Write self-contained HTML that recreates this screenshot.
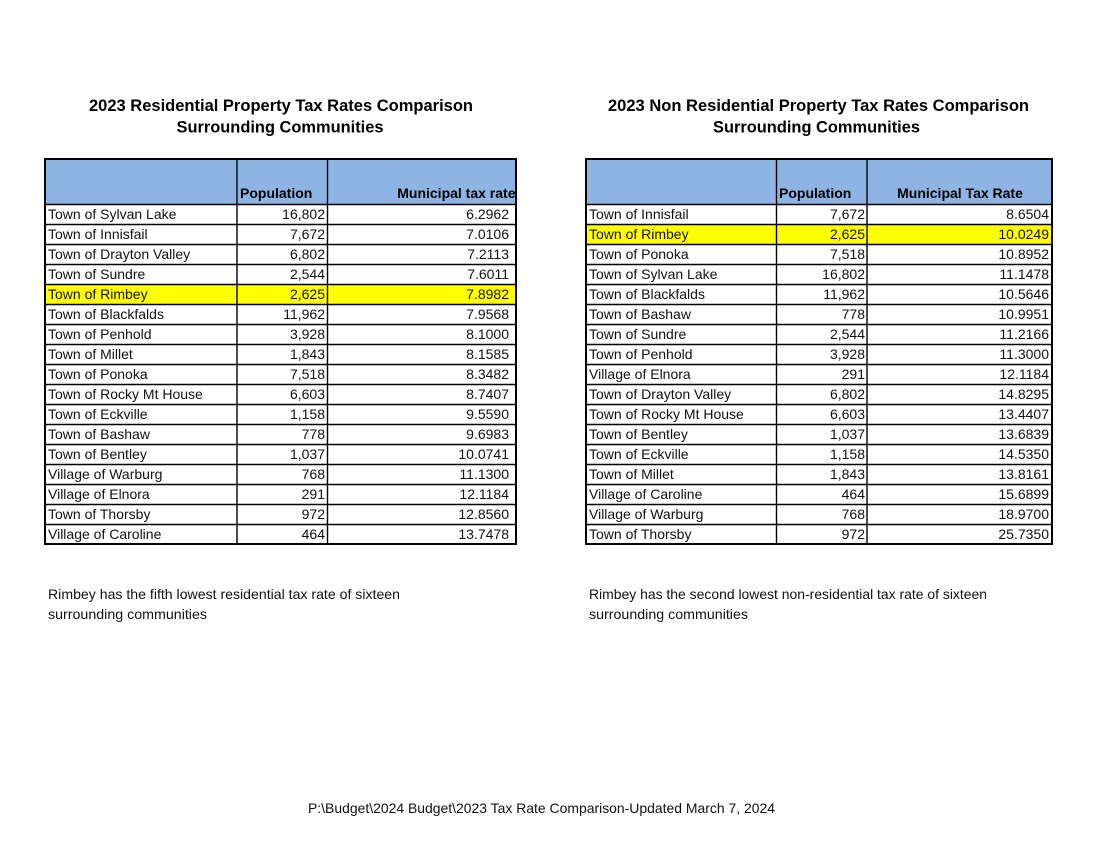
<!DOCTYPE html>
<html>
<head>
<meta charset="utf-8">
<style>
html,body{margin:0;padding:0;background:#fff;}
svg{display:block;}
.t{font-family:"Liberation Sans",Arial,sans-serif;font-weight:bold;font-size:16.5px;fill:#000;}
.h{font-family:"Liberation Sans",Arial,sans-serif;font-weight:bold;font-size:14px;fill:#000;}
.b{font-family:"Liberation Sans",Arial,sans-serif;font-size:14px;fill:#111;}
.n{font-family:"Liberation Sans",Arial,sans-serif;font-size:14px;fill:#111;}
</style>
</head>
<body>
<svg width="1100" height="850" viewBox="0 0 1100 850" xmlns="http://www.w3.org/2000/svg">
<rect x="0" y="0" width="1100" height="850" fill="#fff"/>

<!-- Titles -->
<text class="t" x="281" y="111" text-anchor="middle" textLength="384" lengthAdjust="spacingAndGlyphs">2023 Residential Property Tax Rates Comparison</text>
<text class="t" x="280" y="132.5" text-anchor="middle" textLength="207" lengthAdjust="spacingAndGlyphs">Surrounding Communities</text>
<text class="t" x="818.5" y="111" text-anchor="middle" textLength="421" lengthAdjust="spacingAndGlyphs">2023 Non Residential Property Tax Rates Comparison</text>
<text class="t" x="816.5" y="132.5" text-anchor="middle" textLength="207" lengthAdjust="spacingAndGlyphs">Surrounding Communities</text>

<!-- LEFT TABLE -->
<rect x="45" y="159" width="471" height="45" fill="#8DB4E2"/>
<rect x="45" y="284" width="471" height="20" fill="#FFFF00"/>
<g stroke="#000" stroke-width="1.4">
<line x1="45" y1="204.5" x2="516" y2="204.5"/>
<line x1="45" y1="224.5" x2="516" y2="224.5"/>
<line x1="45" y1="244.5" x2="516" y2="244.5"/>
<line x1="45" y1="264.5" x2="516" y2="264.5"/>
<line x1="45" y1="284.5" x2="516" y2="284.5"/>
<line x1="45" y1="304.5" x2="516" y2="304.5"/>
<line x1="45" y1="324.5" x2="516" y2="324.5"/>
<line x1="45" y1="344.5" x2="516" y2="344.5"/>
<line x1="45" y1="364.5" x2="516" y2="364.5"/>
<line x1="45" y1="384.5" x2="516" y2="384.5"/>
<line x1="45" y1="404.5" x2="516" y2="404.5"/>
<line x1="45" y1="424.5" x2="516" y2="424.5"/>
<line x1="45" y1="444.5" x2="516" y2="444.5"/>
<line x1="45" y1="464.5" x2="516" y2="464.5"/>
<line x1="45" y1="484.5" x2="516" y2="484.5"/>
<line x1="45" y1="504.5" x2="516" y2="504.5"/>
<line x1="45" y1="524.5" x2="516" y2="524.5"/>
<line x1="237" y1="159" x2="237" y2="544"/>
<line x1="327.5" y1="159" x2="327.5" y2="544"/>
</g>
<rect x="45" y="159" width="471" height="385" fill="none" stroke="#000" stroke-width="2"/>

<text class="h" x="240" y="198">Population</text>
<text class="h" x="515.5" y="198" text-anchor="end">Municipal tax rate</text>

<g class="b">
<text x="48" y="219">Town of Sylvan Lake</text>
<text x="48" y="239">Town of Innisfail</text>
<text x="48" y="259">Town of Drayton Valley</text>
<text x="48" y="279">Town of Sundre</text>
<text x="48" y="299">Town of Rimbey</text>
<text x="48" y="319">Town of Blackfalds</text>
<text x="48" y="339">Town of Penhold</text>
<text x="48" y="359">Town of Millet</text>
<text x="48" y="379">Town of Ponoka</text>
<text x="48" y="399">Town of Rocky Mt House</text>
<text x="48" y="419">Town of Eckville</text>
<text x="48" y="439">Town of Bashaw</text>
<text x="48" y="459">Town of Bentley</text>
<text x="48" y="479">Village of Warburg</text>
<text x="48" y="499">Village of Elnora</text>
<text x="48" y="519">Town of Thorsby</text>
<text x="48" y="539">Village of Caroline</text>
</g>
<g class="n" text-anchor="end">
<text x="325" y="219">16,802</text>
<text x="325" y="239">7,672</text>
<text x="325" y="259">6,802</text>
<text x="325" y="279">2,544</text>
<text x="325" y="299">2,625</text>
<text x="325" y="319">11,962</text>
<text x="325" y="339">3,928</text>
<text x="325" y="359">1,843</text>
<text x="325" y="379">7,518</text>
<text x="325" y="399">6,603</text>
<text x="325" y="419">1,158</text>
<text x="325" y="439">778</text>
<text x="325" y="459">1,037</text>
<text x="325" y="479">768</text>
<text x="325" y="499">291</text>
<text x="325" y="519">972</text>
<text x="325" y="539">464</text>
</g>
<g class="n" text-anchor="end">
<text x="509" y="219">6.2962</text>
<text x="509" y="239">7.0106</text>
<text x="509" y="259">7.2113</text>
<text x="509" y="279">7.6011</text>
<text x="509" y="299">7.8982</text>
<text x="509" y="319">7.9568</text>
<text x="509" y="339">8.1000</text>
<text x="509" y="359">8.1585</text>
<text x="509" y="379">8.3482</text>
<text x="509" y="399">8.7407</text>
<text x="509" y="419">9.5590</text>
<text x="509" y="439">9.6983</text>
<text x="509" y="459">10.0741</text>
<text x="509" y="479">11.1300</text>
<text x="509" y="499">12.1184</text>
<text x="509" y="519">12.8560</text>
<text x="509" y="539">13.7478</text>
</g>

<!-- RIGHT TABLE -->
<rect x="586" y="159" width="466" height="45" fill="#8DB4E2"/>
<rect x="586" y="224" width="466" height="20" fill="#FFFF00"/>
<g stroke="#000" stroke-width="1.4">
<line x1="586" y1="204.5" x2="1052" y2="204.5"/>
<line x1="586" y1="224.5" x2="1052" y2="224.5"/>
<line x1="586" y1="244.5" x2="1052" y2="244.5"/>
<line x1="586" y1="264.5" x2="1052" y2="264.5"/>
<line x1="586" y1="284.5" x2="1052" y2="284.5"/>
<line x1="586" y1="304.5" x2="1052" y2="304.5"/>
<line x1="586" y1="324.5" x2="1052" y2="324.5"/>
<line x1="586" y1="344.5" x2="1052" y2="344.5"/>
<line x1="586" y1="364.5" x2="1052" y2="364.5"/>
<line x1="586" y1="384.5" x2="1052" y2="384.5"/>
<line x1="586" y1="404.5" x2="1052" y2="404.5"/>
<line x1="586" y1="424.5" x2="1052" y2="424.5"/>
<line x1="586" y1="444.5" x2="1052" y2="444.5"/>
<line x1="586" y1="464.5" x2="1052" y2="464.5"/>
<line x1="586" y1="484.5" x2="1052" y2="484.5"/>
<line x1="586" y1="504.5" x2="1052" y2="504.5"/>
<line x1="586" y1="524.5" x2="1052" y2="524.5"/>
<line x1="776.5" y1="159" x2="776.5" y2="544"/>
<line x1="867" y1="159" x2="867" y2="544"/>
</g>
<rect x="586" y="159" width="466" height="385" fill="none" stroke="#000" stroke-width="2"/>

<text class="h" x="779" y="198">Population</text>
<text class="h" x="960" y="198" text-anchor="middle">Municipal Tax Rate</text>

<g class="b">
<text x="589" y="219">Town of Innisfail</text>
<text x="589" y="239">Town of Rimbey</text>
<text x="589" y="259">Town of Ponoka</text>
<text x="589" y="279">Town of Sylvan Lake</text>
<text x="589" y="299">Town of Blackfalds</text>
<text x="589" y="319">Town of Bashaw</text>
<text x="589" y="339">Town of Sundre</text>
<text x="589" y="359">Town of Penhold</text>
<text x="589" y="379">Village of Elnora</text>
<text x="589" y="399">Town of Drayton Valley</text>
<text x="589" y="419">Town of Rocky Mt House</text>
<text x="589" y="439">Town of Bentley</text>
<text x="589" y="459">Town of Eckville</text>
<text x="589" y="479">Town of Millet</text>
<text x="589" y="499">Village of Caroline</text>
<text x="589" y="519">Village of Warburg</text>
<text x="589" y="539">Town of Thorsby</text>
</g>
<g class="n" text-anchor="end">
<text x="865" y="219">7,672</text>
<text x="865" y="239">2,625</text>
<text x="865" y="259">7,518</text>
<text x="865" y="279">16,802</text>
<text x="865" y="299">11,962</text>
<text x="865" y="319">778</text>
<text x="865" y="339">2,544</text>
<text x="865" y="359">3,928</text>
<text x="865" y="379">291</text>
<text x="865" y="399">6,802</text>
<text x="865" y="419">6,603</text>
<text x="865" y="439">1,037</text>
<text x="865" y="459">1,158</text>
<text x="865" y="479">1,843</text>
<text x="865" y="499">464</text>
<text x="865" y="519">768</text>
<text x="865" y="539">972</text>
</g>
<g class="n" text-anchor="end">
<text x="1049" y="219">8.6504</text>
<text x="1049" y="239">10.0249</text>
<text x="1049" y="259">10.8952</text>
<text x="1049" y="279">11.1478</text>
<text x="1049" y="299">10.5646</text>
<text x="1049" y="319">10.9951</text>
<text x="1049" y="339">11.2166</text>
<text x="1049" y="359">11.3000</text>
<text x="1049" y="379">12.1184</text>
<text x="1049" y="399">14.8295</text>
<text x="1049" y="419">13.4407</text>
<text x="1049" y="439">13.6839</text>
<text x="1049" y="459">14.5350</text>
<text x="1049" y="479">13.8161</text>
<text x="1049" y="499">15.6899</text>
<text x="1049" y="519">18.9700</text>
<text x="1049" y="539">25.7350</text>
</g>

<!-- Notes -->
<g class="b">
<text x="48" y="599" textLength="352" lengthAdjust="spacingAndGlyphs">Rimbey has the fifth lowest residential tax rate of sixteen</text>
<text x="48" y="619" textLength="159" lengthAdjust="spacingAndGlyphs">surrounding communities</text>
<text x="589" y="599" textLength="398" lengthAdjust="spacingAndGlyphs">Rimbey has the second lowest non-residential tax rate of sixteen</text>
<text x="589" y="619" textLength="159" lengthAdjust="spacingAndGlyphs">surrounding communities</text>
</g>

<!-- Footer -->
<text class="b" x="308" y="813" textLength="467" lengthAdjust="spacingAndGlyphs">P:\Budget\2024 Budget\2023 Tax Rate Comparison-Updated March 7, 2024</text>
</svg>
</body>
</html>
